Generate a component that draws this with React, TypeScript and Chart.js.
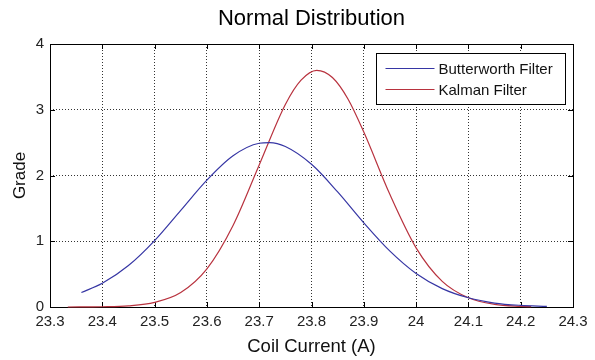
import React, { useEffect, useRef } from 'react';
import { Chart, registerables } from 'chart.js';

Chart.register(...registerables);

const TITLE = 'Normal Distribution';
const X_LABEL = 'Coil Current (A)';
const Y_LABEL = 'Grade';
const SERIES_NAMES = ['Butterworth Filter', 'Kalman Filter'];
const SERIES_COLORS = ['#3636a4', '#b8323e'];

const BW_X = [23.36, 23.4, 23.45, 23.5, 23.55, 23.6, 23.65, 23.7, 23.72, 23.75, 23.8, 23.85, 23.9, 23.95, 24.0, 24.05, 24.1, 24.15, 24.2, 24.25];
const BW_Y = [0.22, 0.36, 0.63, 1.01, 1.47, 1.93, 2.3, 2.49, 2.5, 2.44, 2.17, 1.75, 1.28, 0.85, 0.51, 0.28, 0.14, 0.06, 0.025, 0.01];

const KF_X = [23.334, 23.4, 23.45, 23.5, 23.55, 23.6, 23.65, 23.7, 23.75, 23.78, 23.81, 23.84, 23.87, 23.9, 23.95, 24.0, 24.05, 24.1, 24.15, 24.2, 24.22];
const KF_Y = [0, 0.004, 0.018, 0.07, 0.22, 0.58, 1.24, 2.16, 3.08, 3.45, 3.6, 3.49, 3.16, 2.66, 1.71, 0.9, 0.39, 0.14, 0.04, 0.01, 0.005];

const X_TICKS = [23.3, 23.4, 23.5, 23.6, 23.7, 23.8, 23.9, 24.0, 24.1, 24.2, 24.3];
const Y_TICKS = [0, 1, 2, 3, 4];

const FONT = "Arial, 'Liberation Sans', sans-serif";

const matlabPlugin = {
  id: 'matlabBox',
  beforeDatasetsDraw(chart: any) {
    const { ctx, chartArea, scales } = chart;
    const { left, right, top, bottom } = chartArea;
    const x = scales.x;
    const y = scales.y;
    ctx.save();
    ctx.strokeStyle = '#000';
    ctx.lineWidth = 1;
    ctx.setLineDash([]);
    ctx.beginPath();
    for (const t of x.ticks) {
      const px = Math.round(x.getPixelForValue(t.value)) + 0.5;
      ctx.moveTo(px, bottom);
      ctx.lineTo(px, bottom - 5);
      ctx.moveTo(px, top);
      ctx.lineTo(px, top + 5);
    }
    for (const t of y.ticks) {
      const py = Math.round(y.getPixelForValue(t.value)) + 0.5;
      ctx.moveTo(left, py);
      ctx.lineTo(left + 5, py);
      ctx.moveTo(right, py);
      ctx.lineTo(right - 5, py);
    }
    ctx.stroke();
    ctx.strokeRect(Math.round(left) + 0.5, Math.round(top) + 0.5, Math.round(right - left), Math.round(bottom - top));
    ctx.restore();
  },
  afterDatasetsDraw(chart: any) {
    const { ctx, chartArea } = chart;
    const w = 189;
    const h = 51;
    const bx = Math.round(chartArea.right - 8 - w) + 0.5;
    const by = Math.round(chartArea.top + 9) + 0.5;
    ctx.save();
    ctx.fillStyle = '#fff';
    ctx.fillRect(bx, by, w, h);
    ctx.strokeStyle = '#000';
    ctx.lineWidth = 1;
    ctx.setLineDash([]);
    ctx.strokeRect(bx, by, w, h);
    ctx.font = `15px ${FONT}`;
    ctx.textBaseline = 'middle';
    ctx.textAlign = 'left';
    chart.data.datasets.forEach((ds: any, i: number) => {
      const ly = by + 15 + i * 21;
      ctx.strokeStyle = ds.borderColor;
      ctx.lineWidth = 1.2;
      ctx.beginPath();
      ctx.moveTo(bx + 9, ly);
      ctx.lineTo(bx + 58, ly);
      ctx.stroke();
      ctx.fillStyle = '#111';
      ctx.fillText(ds.label, bx + 62, ly + 1);
    });
    ctx.restore();
  },
};

export default function App() {
  const ref = useRef<HTMLCanvasElement | null>(null);

  useEffect(() => {
    if (!ref.current) return;
    const toPoints = (xs: number[], ys: number[]) => xs.map((v, i) => ({ x: v, y: ys[i] }));
    const chart = new Chart(ref.current, {
      type: 'line',
      data: {
        datasets: [
          {
            label: SERIES_NAMES[0],
            data: toPoints(BW_X, BW_Y),
            borderColor: SERIES_COLORS[0],
            backgroundColor: SERIES_COLORS[0],
            borderWidth: 1.2,
            pointRadius: 0,
            cubicInterpolationMode: 'monotone',
            clip: 4,
          },
          {
            label: SERIES_NAMES[1],
            data: toPoints(KF_X, KF_Y),
            borderColor: SERIES_COLORS[1],
            backgroundColor: SERIES_COLORS[1],
            borderWidth: 1.2,
            pointRadius: 0,
            cubicInterpolationMode: 'monotone',
            clip: 4,
          },
        ],
      },
      options: {
        animation: false,
        responsive: false,
        events: [],
        layout: { padding: { left: 0, right: 22, top: 0, bottom: 0 } },
        plugins: {
          legend: { display: false },
          tooltip: { enabled: false },
          title: {
            display: true,
            text: TITLE,
            fullSize: false,
            color: '#000',
            font: { family: FONT, size: 22, weight: 'normal' },
            padding: { top: 6, bottom: 11.6 },
          },
        },
        scales: {
          x: {
            type: 'linear',
            min: X_TICKS[0],
            max: X_TICKS[X_TICKS.length - 1],
            afterBuildTicks: (s: any) => {
              s.ticks = X_TICKS.map((v) => ({ value: v }));
            },
            afterFit: (s: any) => {
              s.height = 53;
            },
            grid: { color: 'rgba(0,0,0,0.8)', lineWidth: 1, drawTicks: false, tickLength: 0 },
            border: { display: false, dash: [1, 2] },
            ticks: {
              padding: 6,
              color: '#222',
              font: { family: FONT, size: 15 },
              maxRotation: 0,
              autoSkip: false,
              callback: (v: any) => String(Number(Number(v).toFixed(1))),
            },
            title: {
              display: true,
              text: X_LABEL,
              color: '#111',
              font: { family: FONT, size: 18.5 },
              padding: { top: 0, bottom: 2 },
            },
          },
          y: {
            type: 'linear',
            min: Y_TICKS[0],
            max: Y_TICKS[Y_TICKS.length - 1],
            afterBuildTicks: (s: any) => {
              s.ticks = Y_TICKS.map((v) => ({ value: v }));
            },
            afterFit: (s: any) => {
              s.width = 50;
            },
            grid: { color: 'rgba(0,0,0,0.8)', lineWidth: 1, drawTicks: false, tickLength: 0 },
            border: { display: false, dash: [1, 2] },
            ticks: {
              padding: 6,
              color: '#222',
              font: { family: FONT, size: 15 },
              autoSkip: false,
              callback: (v: any) => String(v),
            },
            title: {
              display: true,
              text: Y_LABEL,
              color: '#111',
              font: { family: FONT, size: 17 },
              padding: { top: 10, bottom: 0 },
            },
          },
        },
      },
      plugins: [matlabPlugin],
    } as any);
    return () => chart.destroy();
  }, []);

  return (
    <div style={{ position: 'fixed', left: 0, top: 0, width: 595, height: 360, background: '#fff' }}>
      <canvas ref={ref} width={595} height={360} style={{ width: 595, height: 360 }} />
    </div>
  );
}
